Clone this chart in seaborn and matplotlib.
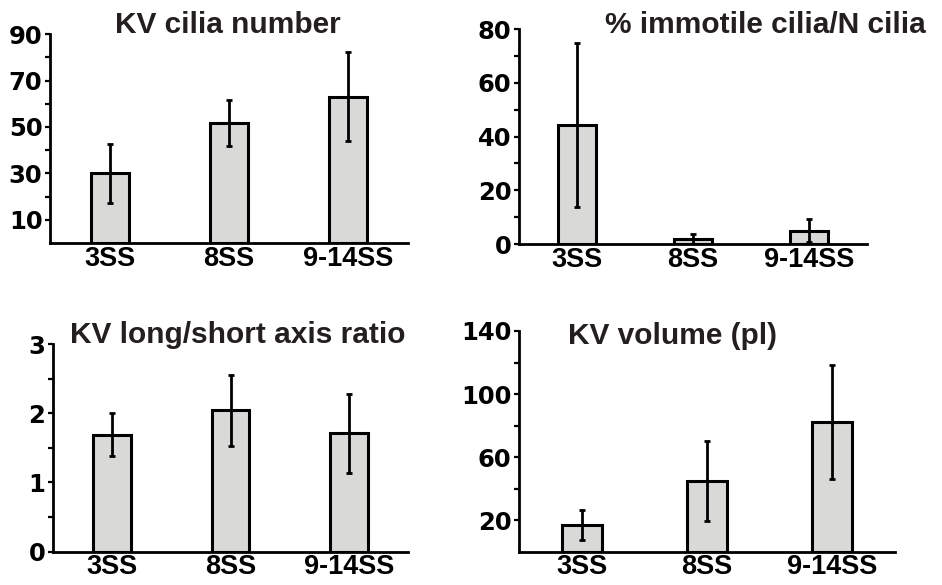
import matplotlib
matplotlib.use("Agg")
import matplotlib.pyplot as plt
import pandas as pd
import seaborn as sns


STAGES = ["3SS", "8SS", "9-14SS"]

CILIA_NUMBER = [30.1, 51.6, 63.1]
CILIA_NUMBER_ERR = [12.7, 10.0, 19.2]

IMMOTILE_PCT = [44.2, 1.8, 5.0]
IMMOTILE_PCT_ERR = [30.6, 2.1, 4.3]

AXIS_RATIO = [1.69, 2.04, 1.71]
AXIS_RATIO_ERR = [0.31, 0.51, 0.57]

KV_VOLUME = [16.9, 45.0, 82.3]
KV_VOLUME_ERR = [9.5, 25.3, 35.9]

BAR_COLOR = "#d9d9d7"
TITLE_COLOR = "#231f20"


def draw_panel(ax, values, errors, ylim, major, minor):
    df = pd.DataFrame({"stage": STAGES, "value": values})
    sns.barplot(
        data=df, x="stage", y="value", ax=ax, color=BAR_COLOR, saturation=1,
        width=0.32, edgecolor="black", linewidth=2.2, errorbar=None,
    )
    ax.errorbar(
        range(len(STAGES)), values, yerr=errors, fmt="none", ecolor="black",
        elinewidth=2, capsize=2, capthick=2, zorder=5,
    )
    ax.set_xlim(-0.5, 2.5)
    ax.set_ylim(*ylim)
    ax.set_yticks(major)
    ax.set_yticks(minor, minor=True)
    ax.set_xlabel("")
    ax.set_ylabel("")
    for side in ("top", "right"):
        ax.spines[side].set_visible(False)
    for side in ("left", "bottom"):
        ax.spines[side].set_linewidth(2)
        ax.spines[side].set_color("black")
    ax.tick_params(axis="x", length=0, pad=2, labelcolor="black")
    ax.tick_params(axis="y", which="both", length=3.5, width=1.6, pad=2,
                   direction="out", color="black", labelcolor="black")
    for lab in ax.get_xticklabels():
        lab.set_fontfamily("Liberation Sans")
        lab.set_fontweight("bold")
        lab.set_fontsize(19.5)
    for lab in ax.get_yticklabels():
        lab.set_fontfamily("DejaVu Sans")
        lab.set_fontweight("bold")
        lab.set_fontsize(17.5)


sns.set_style("ticks")
plt.rcParams["font.family"] = ["Liberation Sans", "DejaVu Sans"]

fig = plt.figure(figsize=(9.42, 5.85), dpi=100)

ax1 = fig.add_axes([0.0531, 0.5846, 0.380, 0.357])
ax2 = fig.add_axes([0.551, 0.5829, 0.3694, 0.3675])
ax3 = fig.add_axes([0.0563, 0.0569, 0.3769, 0.355])
ax4 = fig.add_axes([0.551, 0.0569, 0.399, 0.3773])

draw_panel(ax1, CILIA_NUMBER, CILIA_NUMBER_ERR, (0, 90), [10, 30, 50, 70, 90], [20, 40, 60, 80])
draw_panel(ax2, IMMOTILE_PCT, IMMOTILE_PCT_ERR, (0, 80), [0, 20, 40, 60, 80], [10, 30, 50, 70])
draw_panel(ax3, AXIS_RATIO, AXIS_RATIO_ERR, (0, 3), [0, 1, 2, 3], [0.5, 1.5, 2.5])
draw_panel(ax4, KV_VOLUME, KV_VOLUME_ERR, (0, 140), [20, 60, 100, 140], [40, 80, 120])

title_kw = dict(ha="center", va="baseline", fontsize=21.5, fontweight="bold", color=TITLE_COLOR)
fig.text(228 / 942, 1 - 33 / 585, "KV cilia number", **title_kw)
fig.text(765 / 942, 1 - 33 / 585, "% immotile cilia/N cilia", **title_kw)
fig.text(238 / 942, 1 - 343 / 585, "KV long/short axis ratio", **title_kw)
fig.text(673 / 942, 1 - 344 / 585, "KV volume (pl)", **title_kw)

fig.savefig("out.png", dpi=100)
